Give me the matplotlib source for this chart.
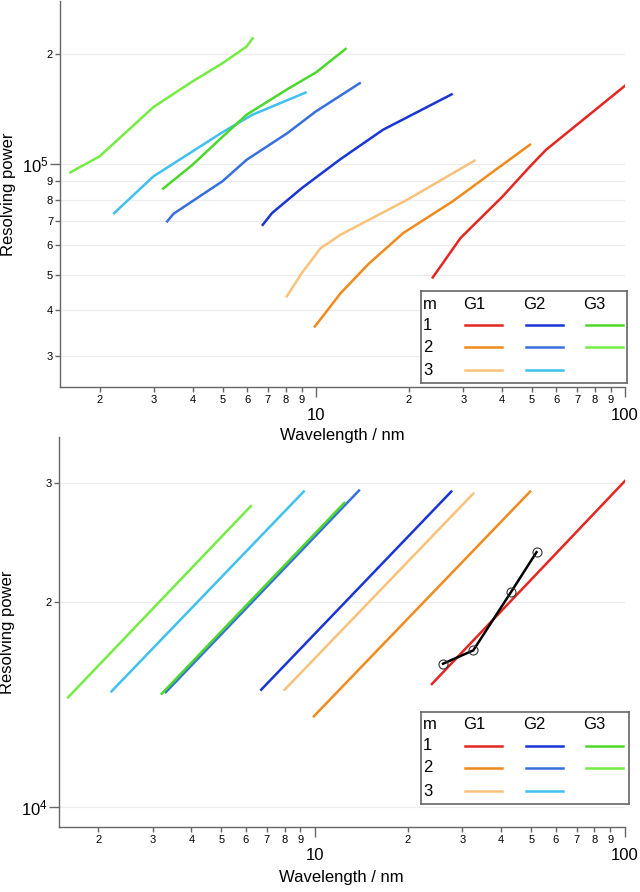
import matplotlib
matplotlib.use("Agg")
import matplotlib.pyplot as plt
from matplotlib.ticker import FixedLocator, FixedFormatter

plt.rcParams['font.family'] = ['Liberation Sans', 'DejaVu Sans']

# ---- top panel: resolving power vs wavelength (measured curves) ----
g1m1_x = [23.9, 29.4, 40.2, 49.3, 55.6, 100]
g1m1_y = [4.91e4, 6.29e4, 8.16e4, 9.85e4, 1.094e5, 1.634e5]
g1m2_x = [9.94, 12.04, 14.84, 19.2, 27.7, 40.2, 49.3]
g1m2_y = [3.61e4, 4.45e4, 5.35e4, 6.49e4, 7.91e4, 9.96e4, 1.129e5]
g1m3_x = [8.06, 9.02, 10.37, 12.04, 19.8, 32.6]
g1m3_y = [4.36e4, 5.05e4, 5.90e4, 6.42e4, 8.0e4, 1.021e5]
g2m1_x = [6.74, 7.22, 9.02, 12.04, 16.51, 27.5]
g2m1_y = [6.83e4, 7.35e4, 8.60e4, 1.032e5, 1.24e5, 1.548e5]
g2m2_x = [3.31, 3.47, 4.51, 4.99, 5.98, 8.11, 10.0, 13.88]
g2m2_y = [6.98e4, 7.32e4, 8.48e4, 8.97e4, 1.027e5, 1.215e5, 1.39e5, 1.66e5]
g2m3_x = [2.23, 2.99, 4.0, 4.99, 6.25, 9.27]
g2m3_y = [7.35e4, 9.26e4, 1.083e5, 1.22e5, 1.363e5, 1.565e5]
g3m1_x = [3.21, 4.0, 4.99, 5.98, 8.11, 10.03, 12.49]
g3m1_y = [8.57e4, 9.96e4, 1.185e5, 1.363e5, 1.60e5, 1.777e5, 2.058e5]
g3m2_x = [1.61, 2.0, 2.99, 4.0, 4.99, 5.98, 6.25]
g3m2_y = [9.49e4, 1.049e5, 1.43e5, 1.68e5, 1.88e5, 2.09e5, 2.20e5]

# ---- bottom panel: calculated (straight) curves ----
b_g1m1_x = [23.9, 102]
b_g1m1_y = [1.517e4, 3.04e4]
b_g1m2_x = [9.94, 49.6]
b_g1m2_y = [1.36e4, 2.91e4]
b_g1m3_x = [8.0, 32.5]
b_g1m3_y = [1.488e4, 2.89e4]
b_g2m1_x = [6.72, 27.6]
b_g2m1_y = [1.488e4, 2.91e4]
b_g2m2_x = [3.31, 13.9]
b_g2m2_y = [1.476e4, 2.92e4]
b_g2m3_x = [2.21, 9.22]
b_g2m3_y = [1.48e4, 2.91e4]
b_g3m1_x = [3.21, 12.46]
b_g3m1_y = [1.468e4, 2.80e4]
b_g3m2_x = [1.60, 6.22]
b_g3m2_y = [1.45e4, 2.77e4]
meas_x = [25.97, 32.5, 43.0, 52.0]
meas_y = [1.625e4, 1.70e4, 2.07e4, 2.37e4]

colors = {
    "g1m1": "#e52620", "g1m2": "#f08a1c", "g1m3": "#f8c27a",
    "g2m1": "#1a35d6", "g2m2": "#3670e0", "g2m3": "#40c0f0",
    "g3m1": "#4cd82a", "g3m2": "#74ec44",
}

top_series = [
    (g1m1_x, g1m1_y, "g1m1"), (g1m2_x, g1m2_y, "g1m2"), (g1m3_x, g1m3_y, "g1m3"),
    (g2m1_x, g2m1_y, "g2m1"), (g2m2_x, g2m2_y, "g2m2"), (g2m3_x, g2m3_y, "g2m3"),
    (g3m2_x, g3m2_y, "g3m2"), (g3m1_x, g3m1_y, "g3m1"),
]
bot_series = [
    (b_g1m1_x, b_g1m1_y, "g1m1"), (b_g1m2_x, b_g1m2_y, "g1m2"), (b_g1m3_x, b_g1m3_y, "g1m3"),
    (b_g2m1_x, b_g2m1_y, "g2m1"), (b_g2m2_x, b_g2m2_y, "g2m2"), (b_g2m3_x, b_g2m3_y, "g2m3"),
    (b_g3m2_x, b_g3m2_y, "g3m2"), (b_g3m1_x, b_g3m1_y, "g3m1"),
]

SPINE = "#666666"
W, H = 640, 892


def style_axes(ax, ylim, yticks_major, yticks_minor, ymajor_labels, yminor_labels):
    ax.set_xscale("log")
    ax.set_yscale("log")
    ax.set_xlim(1.49, 100)
    ax.set_ylim(*ylim)
    ax.patch.set_visible(False)
    for s in ["top", "right"]:
        ax.spines[s].set_visible(False)
    for s in ["left", "bottom"]:
        ax.spines[s].set_color(SPINE)
        ax.spines[s].set_linewidth(1.0)

    ax.xaxis.set_major_locator(FixedLocator([10, 100]))
    ax.xaxis.set_major_formatter(FixedFormatter(["10", "100"]))
    minors = [m * d for d in (1, 10) for m in range(2, 10)]
    ax.set_xticks(minors, minor=True)
    ax.set_xticklabels([str(m) for d in (1, 10) for m in range(2, 10)], minor=True)

    ax.yaxis.set_major_locator(FixedLocator(yticks_major))
    ax.yaxis.set_major_formatter(FixedFormatter(ymajor_labels))
    ax.set_yticks(yticks_minor, minor=True)
    ax.set_yticklabels(yminor_labels, minor=True)

    ax.tick_params(axis="x", which="major", length=7, width=1, color=SPINE,
                   labelsize=12, pad=8)
    ax.tick_params(axis="x", which="minor", length=3.5, width=1, color=SPINE,
                   labelsize=8, pad=2.5)
    ax.tick_params(axis="y", which="major", length=7, width=1, color=SPINE,
                   labelsize=12, pad=1)
    ax.tick_params(axis="y", which="minor", length=3.5, width=1, color=SPINE,
                   labelsize=8, pad=1.5)

    for v in list(yticks_major) + list(yticks_minor):
        ax.axhline(v, color="#ececec", lw=0.8, zorder=0)

    ax.set_ylabel("Resolving power", fontsize=12)
    ax.set_xlabel("Wavelength / nm", fontsize=12)
    ax.yaxis.set_label_coords(-0.077, 0.5)


def draw_legend(fig, left_px, top_px, right_px, bottom_px):
    lax = fig.add_axes([left_px / W, 1 - bottom_px / H,
                        (right_px - left_px) / W, (bottom_px - top_px) / H])
    lax.set_xlim(left_px, right_px)
    lax.set_ylim(bottom_px, top_px)
    lax.set_xticks([])
    lax.set_yticks([])
    for s in lax.spines.values():
        s.set_color(SPINE)
        s.set_linewidth(1.2)
    fam = ['Liberation Sans Narrow', 'Liberation Sans', 'DejaVu Sans']
    rows = [top_px + 13, top_px + 34, top_px + 56, top_px + 79]
    lax.text(left_px + 2, rows[0], "m", fontsize=12, va="center", family=fam)
    for lab, x in zip(["G1", "G2", "G3"], [42, 102, 162]):
        lax.text(left_px + x, rows[0], lab, fontsize=12, va="center", family=fam)
    for i, r in enumerate(rows[1:]):
        lax.text(left_px + 2, r, str(i + 1), fontsize=12, va="center", family=fam)
    grid = [["g1m1", "g2m1", "g3m1"], ["g1m2", "g2m2", "g3m2"], ["g1m3", "g2m3", None]]
    for i, r in enumerate(rows[1:]):
        for j, key in enumerate(grid[i]):
            if key is None:
                continue
            x0 = left_px + 44 + 60.5 * j
            lax.plot([x0, x0 + 37], [r, r], color=colors[key], lw=1.8)


fig = plt.figure(figsize=(6.4, 8.92), dpi=100)

ax2 = fig.add_axes([58.5 / W, 1 - 827 / H, 566 / W, 390 / H])
for x, y, key in bot_series:
    ax2.plot(x, y, color=colors[key], lw=1.8)
ax2.plot(meas_x, meas_y, color="black", lw=1.8, marker="o", ms=6.5,
         mfc="none", mec="#333333", mew=0.8)
style_axes(ax2, (9.35e3, 3.50e4), [1e4], [2e4, 3e4],
           [r"$\mathregular{10^4}$"], ["2", "3"])
ax2.xaxis.set_label_coords(0.5, -0.11)

ax1 = fig.add_axes([60 / W, 1 - 387 / H, 565 / W, 386 / H])
for x, y, key in top_series:
    ax1.plot(x, y, color=colors[key], lw=1.8)
style_axes(ax1, (2.47e4, 2.78e5), [1e5], [3e4, 4e4, 5e4, 6e4, 7e4, 8e4, 9e4, 2e5],
           [r"$\mathregular{10^5}$"], ["3", "4", "5", "6", "7", "8", "9", "2"])
ax1.xaxis.set_label_coords(0.5, -0.105)

draw_legend(fig, 421, 291, 627, 383)
draw_legend(fig, 421, 712, 629, 804)

fig.savefig("out.png", dpi=100)
